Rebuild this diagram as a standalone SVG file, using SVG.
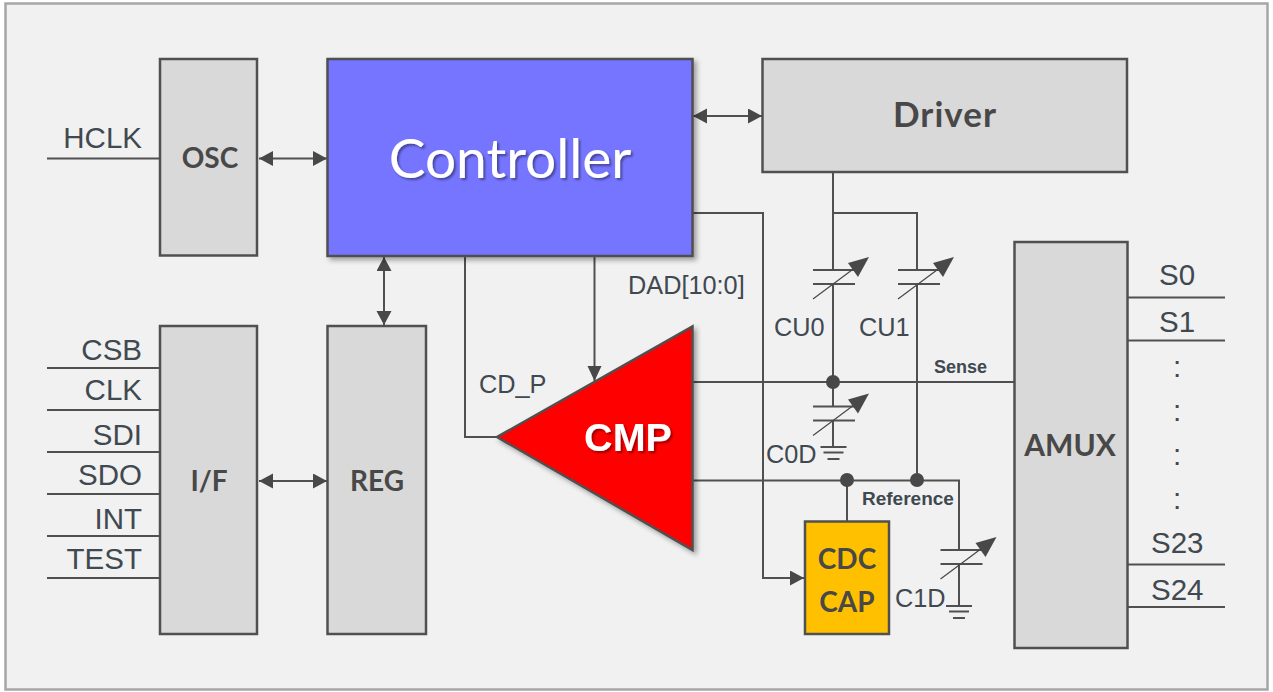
<svg xmlns="http://www.w3.org/2000/svg" width="1273" height="692" viewBox="0 0 1273 692">
<defs>
<marker id="a" markerUnits="userSpaceOnUse" markerWidth="15" markerHeight="16" refX="14" refY="7.5" orient="auto-start-reverse"><path d="M0 0L14 7.5L0 15Z" fill="#484848"/></marker>
<marker id="v" markerUnits="userSpaceOnUse" markerWidth="16" markerHeight="16" refX="15" refY="7" orient="auto"><path d="M0 0L15 7L0 14Z" fill="#484848"/></marker>
<filter id="s" x="-5%" y="-5%" width="112%" height="112%"><feDropShadow dx="3" dy="3" stdDeviation="2.500" flood-color="#000" flood-opacity=".35"/></filter>
<filter id="ts" x="-5%" y="-10%" width="112%" height="125%"><feDropShadow dx="2" dy="2" stdDeviation="1.200" flood-color="#000" flood-opacity=".4"/></filter>
<g id="cap"><path class="l" d="M-21 0H21M-21 14H21"/><path d="M-21 29L26 -6" stroke="#484848" stroke-width="1.200" fill="none"/><path d="M35 -13L14 -7L24 7Z" fill="#484848"/></g>
<g id="gnd"><path class="l" d="M-13 0H13M-10 5.500H10M-6 12H6"/></g>
</defs>
<style>
.l{fill:none;stroke:#505050;stroke-width:2}
.b{fill:#d9d9d9;stroke:#505050;stroke-width:2.5}
.t{font-family:"Liberation Sans",Arial,sans-serif;font-size:29.5px;fill:#404850}
.u{font-size:25.300px}
.n{font-family:Lato,"Open Sans",sans-serif;font-weight:700;fill:#484848;text-anchor:middle}
.m{font-family:"Liberation Sans",Arial,sans-serif;font-weight:700;font-size:18px;fill:#404850}
.e{text-anchor:end}
.j{fill:#484848}
</style>
<rect x="5.500" y="3.500" width="1262" height="686" fill="#f1f1f1" stroke="#a6a6a6" stroke-width="2.500"/>
<g id="connectors">
<path class="l" d="M47 158.500H160M47 368H160M47 410H160M47 452H160M47 494H160M47 536H160M47 578H160"/>
<path class="l" d="M1127 297.500H1225M1127 340.500H1225M1127 564.500H1225M1127 607H1225"/>
<path class="l" marker-start="url(#a)" marker-end="url(#a)" d="M259 158.500H327"/>
<path class="l" marker-start="url(#a)" marker-end="url(#a)" d="M693 116H762"/>
<path class="l" marker-start="url(#a)" marker-end="url(#a)" d="M384 257V325"/>
<path class="l" marker-start="url(#a)" marker-end="url(#a)" d="M259 481H327"/>
<path class="l" d="M465 257V437H497"/>
<path class="l" marker-end="url(#v)" d="M594.500 257V381"/>
<path class="l" marker-end="url(#a)" d="M693 213H763V578H804"/>
<path class="l" d="M833 172V270M833 213H917V270M917 284V480M833 284V382M693 382H1014M833 382V406M833 420V447"/>
<path class="l" d="M693 480.500H959V550M959 564V606M847 480V521"/>
<circle class="j" cx="833" cy="382" r="7"/>
<circle class="j" cx="847" cy="480" r="7"/>
<circle class="j" cx="917" cy="480" r="7"/>
<use href="#cap" x="834" y="270"/>
<use href="#cap" x="919" y="270"/>
<use href="#cap" x="834" y="406.500"/>
<use href="#cap" x="961.500" y="550"/>
<use href="#gnd" x="833.500" y="447"/>
<use href="#gnd" x="959" y="606"/>
</g>
<g id="osc"><rect class="b" x="160" y="59" width="97" height="196.500"/><text class="n" x="210" y="168" font-size="28">OSC</text></g>
<g id="controller"><rect x="327.500" y="59" width="365" height="197" fill="#7575ff" stroke="#505050" stroke-width="2.500" filter="url(#s)"/><text x="510" y="178" font-family="Lato,'Open Sans',sans-serif" font-size="55" fill="#fff" text-anchor="middle" filter="url(#ts)">Controller</text></g>
<g id="driver"><rect class="b" x="762.500" y="59" width="364.500" height="113"/><text class="n" x="945" y="127" font-size="35" letter-spacing="1">Driver</text></g>
<g id="if"><rect class="b" x="160" y="326" width="97" height="308"/><text class="n" x="209" y="491" font-size="28">I/F</text></g>
<g id="reg"><rect class="b" x="327.500" y="326" width="98.500" height="308"/><text class="n" x="377" y="491" font-size="28">REG</text></g>
<g id="cmp"><path d="M692.500 326.500V550L497 437Z" fill="#ff0000" stroke="#505050" stroke-width="2.500" filter="url(#s)"/><text x="628" y="451" font-family="'Liberation Sans',Arial,sans-serif" font-weight="700" font-size="39.500" fill="#fff" text-anchor="middle" filter="url(#ts)">CMP</text></g>
<g id="cdc"><rect x="805" y="521.500" width="84" height="112.500" fill="#ffc000" stroke="#505050" stroke-width="2.500"/><text class="n" x="847" y="569" font-size="28">CDC</text><text class="n" x="847" y="612" font-size="28">CAP</text></g>
<g id="amux"><rect class="b" x="1014.500" y="242" width="113" height="406"/><text class="n" x="1070" y="456" font-size="30">AMUX</text></g>
<g id="labels">
<text class="t e" x="142" y="148">HCLK</text>
<text class="t e" x="142" y="360">CSB</text>
<text class="t e" x="142" y="400">CLK</text>
<text class="t e" x="142" y="445">SDI</text>
<text class="t e" x="142" y="485">SDO</text>
<text class="t e" x="142" y="529">INT</text>
<text class="t e" x="142" y="569">TEST</text>
<text class="t" x="1159" y="285">S0</text>
<text class="t" x="1159" y="332">S1</text>
<text class="t" x="1173" y="377">:</text>
<text class="t" x="1173" y="421">:</text>
<text class="t" x="1173" y="465">:</text>
<text class="t" x="1173" y="509">:</text>
<text class="t" x="1151" y="553">S23</text>
<text class="t" x="1151" y="600">S24</text>
<text class="t u" x="628" y="294">DAD[10:0]</text>
<text class="t u" x="479" y="393">CD_P</text>
<text class="t u" x="774" y="336">CU0</text>
<text class="t u" x="859" y="336">CU1</text>
<text class="t u" x="766" y="463">C0D</text>
<text class="t u" x="895" y="607">C1D</text>
<text class="m" x="934" y="373">Sense</text>
<text class="m" x="862" y="505" style="font-size:19px">Reference</text>
</g>
</svg>
